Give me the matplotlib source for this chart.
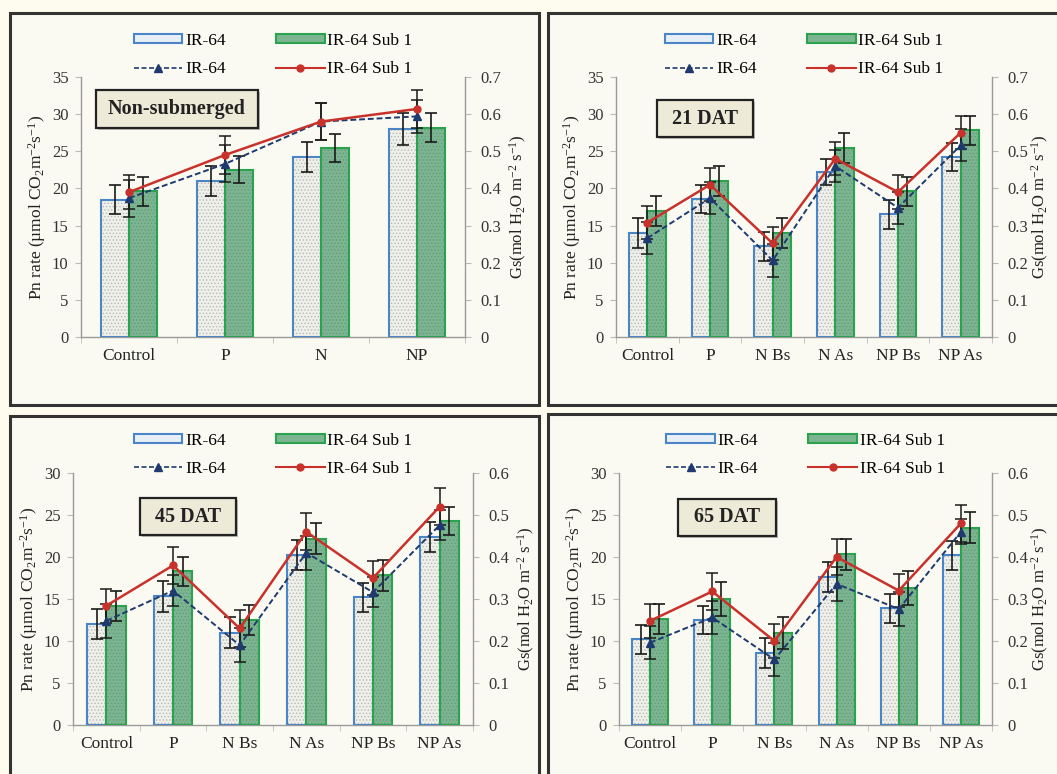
import matplotlib
matplotlib.use("Agg")
import matplotlib.pyplot as plt
from matplotlib.patches import Rectangle, Patch
from matplotlib.lines import Line2D
from matplotlib.ticker import FuncFormatter, MultipleLocator, FixedLocator
import numpy as np

plt.rcParams['font.family'] = ['Liberation Serif', 'DejaVu Serif']
plt.rcParams['mathtext.fontset'] = 'custom'
plt.rcParams['mathtext.rm'] = 'Liberation Serif'
plt.rcParams['mathtext.it'] = 'Liberation Serif:italic'
plt.rcParams['mathtext.bf'] = 'Liberation Serif:bold'
plt.rcParams['hatch.linewidth'] = 0.6

# ---------------- data ----------------
cats_ns = ['Control', 'P', 'N', 'NP']
cats_dat = ['Control', 'P', 'N Bs', 'N As', 'NP Bs', 'NP As']

# Non-submerged
ns_pn_ir = [18.5, 21.0, 24.2, 28.0]
ns_pn_ir_err = [2.0, 2.0, 2.0, 2.1]
ns_pn_sub = [19.6, 22.5, 25.4, 28.2]
ns_pn_sub_err = [1.9, 1.8, 1.9, 1.9]
ns_gs_ir = [0.374, 0.466, 0.580, 0.594]
ns_gs_ir_err = [0.05, 0.05, 0.05, 0.045]
ns_gs_sub = [0.390, 0.490, 0.580, 0.614]
ns_gs_sub_err = [0.045, 0.05, 0.05, 0.05]

# 21 DAT
d21_pn_ir = [14.0, 18.6, 12.2, 22.2, 16.5, 24.2]
d21_pn_ir_err = [2.0, 1.9, 2.0, 1.8, 2.0, 1.9]
d21_pn_sub = [17.0, 21.0, 14.0, 25.4, 19.6, 27.8]
d21_pn_sub_err = [2.0, 2.0, 2.0, 2.0, 2.0, 2.0]
d21_gs_ir = [0.266, 0.374, 0.206, 0.460, 0.348, 0.516]
d21_gs_ir_err = [0.043, 0.043, 0.045, 0.043, 0.043, 0.043]
d21_gs_sub = [0.308, 0.410, 0.252, 0.480, 0.390, 0.550]
d21_gs_sub_err = [0.045, 0.045, 0.045, 0.045, 0.045, 0.045]

# 45 DAT
d45_pn_ir = [12.0, 15.3, 11.0, 20.2, 15.2, 22.4]
d45_pn_ir_err = [1.8, 1.8, 1.8, 1.8, 1.7, 1.8]
d45_pn_sub = [14.2, 18.3, 12.5, 22.2, 17.8, 24.3]
d45_pn_sub_err = [1.8, 1.7, 1.8, 1.8, 1.8, 1.7]
d45_gs_ir = [0.248, 0.320, 0.190, 0.410, 0.316, 0.476]
d45_gs_ir_err = [0.04, 0.036, 0.04, 0.04, 0.036, 0.036]
d45_gs_sub = [0.284, 0.380, 0.230, 0.460, 0.350, 0.520]
d45_gs_sub_err = [0.04, 0.044, 0.044, 0.044, 0.04, 0.044]

# 65 DAT
d65_pn_ir = [10.2, 12.5, 8.6, 17.6, 13.9, 20.2]
d65_pn_ir_err = [1.7, 1.7, 1.8, 1.8, 1.7, 1.7]
d65_pn_sub = [12.6, 15.0, 11.0, 20.3, 16.3, 23.5]
d65_pn_sub_err = [1.8, 2.0, 1.9, 1.8, 2.0, 1.8]
d65_gs_ir = [0.196, 0.256, 0.156, 0.336, 0.276, 0.460]
d65_gs_ir_err = [0.04, 0.04, 0.04, 0.04, 0.04, 0.03]
d65_gs_sub = [0.248, 0.318, 0.200, 0.400, 0.320, 0.480]
d65_gs_sub_err = [0.04, 0.044, 0.04, 0.044, 0.04, 0.044]

legend_labels = ['IR-64', 'IR-64 Sub 1']

# ---------------- style ----------------
W, H = 1057, 774
BG = '#fdfcef'
PANEL = '#fafaf3'
BLUE = '#4a86c6'
GREEN_E = '#2aa24e'
GREEN_F = '#7db592'
NAVY = '#1f3a6e'
RED = '#c8322b'
AXC = '#9a9a9a'
TXT = '#222222'

fig = plt.figure(figsize=(W / 100, H / 100), dpi=100, facecolor=BG)


def fx(x):
    return x / W


def fy(y):
    return 1 - y / H


def frame(x0, y0, x1, y1):
    r = Rectangle((fx(x0), fy(y1)), fx(x1) - fx(x0), fy(y0) - fy(y1),
                  transform=fig.transFigure, facecolor=PANEL,
                  edgecolor='#333333', linewidth=2.2, zorder=0)
    fig.add_artist(r)


def label_box(x0, y0, x1, y1, text):
    sh = Rectangle((fx(x0 + 2), fy(y1 + 2)), fx(x1) - fx(x0), fy(y0) - fy(y1),
                   transform=fig.transFigure, facecolor='#bdbdb5',
                   edgecolor='none', zorder=5)
    fig.add_artist(sh)
    r = Rectangle((fx(x0), fy(y1)), fx(x1) - fx(x0), fy(y0) - fy(y1),
                  transform=fig.transFigure, facecolor='#eeead8',
                  edgecolor='#222222', linewidth=1.6, zorder=6)
    fig.add_artist(r)
    fig.text(fx((x0 + x1) / 2), fy((y0 + y1) / 2), text, ha='center',
             va='center', fontsize=14.5, fontweight='bold', color=TXT,
             zorder=7)


def panel(px, cats, pn_ir, pn_ir_err, pn_sub, pn_sub_err,
          gs_ir, gs_ir_err, gs_sub, gs_sub_err, ymax, gmax, leg_y, rpad):
    x0, y0, x1, y1 = px
    ax = fig.add_axes([fx(x0), fy(y1), fx(x1) - fx(x0), fy(y0) - fy(y1)])
    ax.set_facecolor('none')
    n = len(cats)
    x = np.arange(n)
    w = 0.29
    # IR-64 bars: dotted fill + blue outline
    ax.bar(x - w / 2, pn_ir, w, color='#f0f0ea', edgecolor='#b8b8b8',
           hatch='.....', linewidth=0, zorder=2)
    ax.bar(x - w / 2, pn_ir, w, fill=False, edgecolor=BLUE, linewidth=1.5,
           zorder=3)
    # Sub1 bars
    ax.bar(x + w / 2, pn_sub, w, color=GREEN_F, edgecolor='#5f9e76',
           hatch='.....', linewidth=0, zorder=2)
    ax.bar(x + w / 2, pn_sub, w, fill=False, edgecolor=GREEN_E,
           linewidth=1.5, zorder=3)
    ax.errorbar(x - w / 2, pn_ir, yerr=pn_ir_err, fmt='none', ecolor='#1a1a1a',
                elinewidth=1.2, capsize=4, capthick=1.2, zorder=4)
    ax.errorbar(x + w / 2, pn_sub, yerr=pn_sub_err, fmt='none',
                ecolor='#1a1a1a', elinewidth=1.2, capsize=4, capthick=1.2,
                zorder=4)
    ax.set_xlim(-0.5, n - 0.5)
    ax.set_ylim(0, ymax)
    ax.yaxis.set_major_locator(MultipleLocator(5))
    ax.set_xticks(x)
    ax.set_xticklabels(cats)
    ax.xaxis.set_minor_locator(FixedLocator(np.arange(n + 1) - 0.5))
    ax.tick_params(axis='x', which='major', length=0, pad=8, labelsize=12.5,
                   labelcolor=TXT)
    ax.tick_params(axis='x', which='minor', length=4, color='#bbbbbb',
                   direction='out')
    ax.tick_params(axis='y', length=4, color='#bbbbbb', direction='out',
                   labelsize=12, labelcolor='#333333', pad=5)
    for s in ['top', 'right']:
        ax.spines[s].set_visible(False)
    for s in ['left', 'bottom']:
        ax.spines[s].set_color(AXC)
        ax.spines[s].set_linewidth(1.0)
    ax.set_ylabel('Pn rate (µmol CO$_2$m$^{-2}$s$^{-1}$)', fontsize=12.5,
                  color=TXT, labelpad=3)

    ax2 = ax.twinx()
    ax2.set_ylim(0, gmax)
    ax2.yaxis.set_major_locator(MultipleLocator(0.1))
    ax2.yaxis.set_major_formatter(
        FuncFormatter(lambda v, p: '0' if abs(v) < 1e-9 else f'{v:.1f}'))
    ax2.tick_params(axis='y', length=4, color='#bbbbbb', direction='out',
                    labelsize=12, labelcolor='#333333', pad=7)
    for s in ['top', 'left', 'bottom']:
        ax2.spines[s].set_visible(False)
    ax2.spines['right'].set_color(AXC)
    ax2.spines['right'].set_linewidth(1.0)
    ax2.set_ylabel('Gs(mol H$_2$O m$^{-2}$ s$^{-1}$)', fontsize=12,
                   color=TXT, labelpad=rpad)

    ax2.errorbar(x, gs_ir, yerr=gs_ir_err, fmt='none', ecolor='#1a1a1a',
                 elinewidth=1.1, capsize=4, capthick=1.1, zorder=5)
    ax2.errorbar(x, gs_sub, yerr=gs_sub_err, fmt='none', ecolor='#1a1a1a',
                 elinewidth=1.1, capsize=4, capthick=1.1, zorder=5)
    ax2.plot(x, gs_ir, color=NAVY, linestyle=(0, (3, 1.5)), linewidth=1.4,
             marker='^', markersize=6, zorder=6)
    ax2.plot(x, gs_sub, color=RED, linestyle='-', linewidth=1.8,
             marker='o', markersize=5, zorder=7)

    handles = [
        Patch(facecolor='#e8eef5', edgecolor=BLUE, linewidth=1.5),
        Line2D([], [], color=NAVY, linestyle=(0, (3, 1.5)), linewidth=1.2,
               marker='^', markersize=6),
        Patch(facecolor=GREEN_F, edgecolor=GREEN_E, linewidth=1.5),
        Line2D([], [], color=RED, linewidth=1.5, marker='o', markersize=5),
    ]
    labels = [legend_labels[0], legend_labels[0], legend_labels[1],
              legend_labels[1]]
    ax2.legend(handles, labels, ncol=2, loc='center',
               bbox_to_anchor=(0.5, leg_y), frameon=False, fontsize=12.5,
               handlelength=2.8, handleheight=0.45, handletextpad=0.15,
               columnspacing=2.9, labelspacing=0.7, borderpad=0.2)
    return ax, ax2


# panel frames
frame(10, 13, 539, 405)
frame(548, 13, 1070, 405)
frame(10, 416, 539, 790)
frame(548, 414, 1070, 790)

panel((81, 77, 465, 337), cats_ns, ns_pn_ir, ns_pn_ir_err, ns_pn_sub,
      ns_pn_sub_err, ns_gs_ir, ns_gs_ir_err, ns_gs_sub, ns_gs_sub_err,
      35, 0.7, 1.085, 5)
panel((616, 77, 992, 337), cats_dat, d21_pn_ir, d21_pn_ir_err, d21_pn_sub,
      d21_pn_sub_err, d21_gs_ir, d21_gs_ir_err, d21_gs_sub, d21_gs_sub_err,
      35, 0.7, 1.085, 1)
panel((73, 473, 473, 725), cats_dat, d45_pn_ir, d45_pn_ir_err, d45_pn_sub,
      d45_pn_sub_err, d45_gs_ir, d45_gs_ir_err, d45_gs_sub, d45_gs_sub_err,
      30, 0.6, 1.073, 5)
panel((619, 473, 992, 725), cats_dat, d65_pn_ir, d65_pn_ir_err, d65_pn_sub,
      d65_pn_sub_err, d65_gs_ir, d65_gs_ir_err, d65_gs_sub, d65_gs_sub_err,
      30, 0.6, 1.073, 1)

label_box(96, 90, 258, 128, 'Non-submerged')
label_box(657, 100, 753, 137, '21 DAT')
label_box(140, 498, 236, 535, '45 DAT')
label_box(678, 499, 776, 536, '65 DAT')

fig.savefig('out.png', dpi=100, facecolor=BG)
